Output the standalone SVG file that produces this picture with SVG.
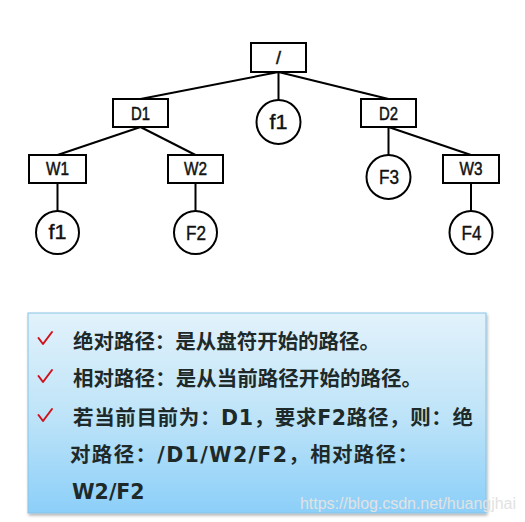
<svg xmlns="http://www.w3.org/2000/svg" width="525" height="522" viewBox="0 0 525 522">
<style>
.box{fill:#fff;stroke:#000;stroke-width:2}
.circ{fill:#fff;stroke:#000;stroke-width:2}
.lbl{font-family:"Liberation Sans",Arial,sans-serif;font-size:18px;fill:#111;text-anchor:middle;stroke:#111;stroke-width:0.5}
.clbl{font-family:"Liberation Sans",Arial,sans-serif;font-size:20px;fill:#111;text-anchor:middle;stroke:#111;stroke-width:0.4}
.edge{stroke:#000;stroke-width:2;fill:none}
.txt{font-family:"DejaVu Sans","Noto Sans CJK SC",sans-serif;font-size:20.5px;font-weight:bold;fill:#1e2a2a}
.tick{stroke:#d0101a;stroke-width:2;fill:none;stroke-linecap:round;stroke-linejoin:round}
</style>
<defs>
<linearGradient id="bg" x1="0" y1="0" x2="0" y2="1">
<stop offset="0" stop-color="#e2f2fb"/>
<stop offset="0.5" stop-color="#bfe4f8"/>
<stop offset="1" stop-color="#8ccff9"/>
</linearGradient>
<filter id="sh" x="-5%" y="-5%" width="110%" height="115%">
<feDropShadow dx="1" dy="2" stdDeviation="1.5" flood-color="#000" flood-opacity="0.3"/>
</filter>
</defs>
<rect width="525" height="522" fill="#fff"/>
<g id="connectors">
<line class="edge" x1="278.5" y1="72" x2="140.5" y2="99"/>
<line class="edge" x1="278.5" y1="72" x2="278.5" y2="100"/>
<line class="edge" x1="278.5" y1="72" x2="388.5" y2="99"/>
<line class="edge" x1="140.5" y1="127" x2="57.5" y2="155"/>
<line class="edge" x1="140.5" y1="127" x2="195.5" y2="155"/>
<line class="edge" x1="388.5" y1="127" x2="388.5" y2="155"/>
<line class="edge" x1="388.5" y1="127" x2="471" y2="155"/>
<line class="edge" x1="57.5" y1="183" x2="57.5" y2="211"/>
<line class="edge" x1="195.5" y1="183" x2="195.5" y2="211"/>
<line class="edge" x1="471" y1="183" x2="471" y2="211"/>
</g>
<g id="root"><rect class="box" x="251" y="43" width="55" height="29"/><text class="lbl" x="278.5" y="63.5">/</text></g>
<g id="D1"><rect class="box" x="113" y="99" width="55" height="28"/><text class="lbl" x="140.5" y="119.5" textLength="19" lengthAdjust="spacingAndGlyphs">D1</text></g>
<g id="f1top"><circle class="circ" cx="278.5" cy="122" r="22"/><text class="clbl" x="278.5" y="128.5" textLength="18" lengthAdjust="spacingAndGlyphs">f1</text></g>
<g id="D2"><rect class="box" x="361" y="99" width="55" height="28"/><text class="lbl" x="388.5" y="119.5" textLength="19" lengthAdjust="spacingAndGlyphs">D2</text></g>
<g id="W1"><rect class="box" x="29" y="155" width="57" height="28"/><text class="lbl" x="57.5" y="174.5" textLength="23" lengthAdjust="spacingAndGlyphs">W1</text></g>
<g id="W2"><rect class="box" x="168" y="155" width="55" height="28"/><text class="lbl" x="195.5" y="174.5" textLength="23" lengthAdjust="spacingAndGlyphs">W2</text></g>
<g id="F3"><circle class="circ" cx="388.5" cy="177" r="22"/><text class="clbl" x="389" y="184" textLength="20" lengthAdjust="spacingAndGlyphs">F3</text></g>
<g id="W3"><rect class="box" x="443" y="155" width="56" height="28"/><text class="lbl" x="471" y="174.5" textLength="23" lengthAdjust="spacingAndGlyphs">W3</text></g>
<g id="f1"><circle class="circ" cx="57.5" cy="232.5" r="21.5"/><text class="clbl" x="57.5" y="239" textLength="18" lengthAdjust="spacingAndGlyphs">f1</text></g>
<g id="F2"><circle class="circ" cx="195.5" cy="232.5" r="21.5"/><text class="clbl" x="196" y="239.5" textLength="20" lengthAdjust="spacingAndGlyphs">F2</text></g>
<g id="F4"><circle class="circ" cx="471" cy="232.5" r="21.5"/><text class="clbl" x="471.5" y="239.5" textLength="20" lengthAdjust="spacingAndGlyphs">F4</text></g>
<g id="note">
<rect x="28" y="313" width="458" height="200" fill="url(#bg)" stroke="#86c3e6" stroke-width="1" filter="url(#sh)"/>
<path class="tick" d="M38.5 338 L43 344 L52 332"/>
<path class="tick" d="M38.5 376 L43 382 L52 370"/>
<path class="tick" d="M38.5 415 L43 421 L52 409"/>
<text class="txt" x="73" y="349" textLength="307">绝对路径：是从盘符开始的路径。</text>
<text class="txt" x="73" y="386" textLength="349">相对路径：是从当前路径开始的路径。</text>
<text class="txt" x="73" y="425" textLength="400">若当前目前为：D1，要求F2路径，则：绝</text>
<text class="txt" x="70" y="462" textLength="348">对路径：/D1/W2/F2，相对路径：</text>
<text class="txt" x="72" y="499">W2/F2</text>
</g>
<text x="300" y="509" font-family="Liberation Sans,Arial,sans-serif" font-size="16" fill="#e2e2e2" textLength="216">https://blog.csdn.net/huangjhai</text>
</svg>
